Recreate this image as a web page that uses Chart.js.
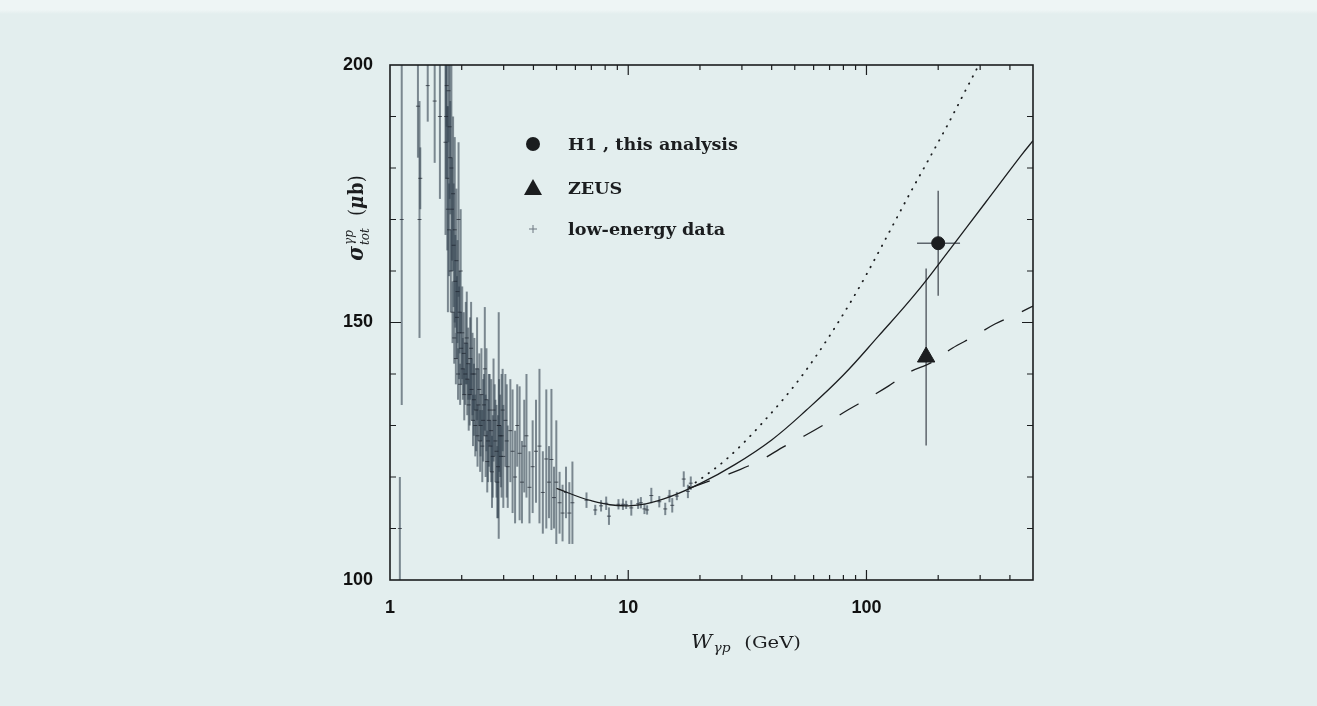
<!DOCTYPE html>
<html>
<head>
<meta charset="utf-8">
<script src="https://cdn.jsdelivr.net/npm/chart.js@4.4.0/dist/chart.umd.min.js"></script>
<style>
  html, body { margin: 0; padding: 0; }
  body {
    width: 1317px; height: 706px; overflow: hidden;
    background: linear-gradient(to bottom, #eef5f5 0px, #eef5f5 10px, #e3eeee 14px, #e3eeee 100%);
  }
</style>
</head>
<body>
<canvas id="myChart" width="1317" height="706"></canvas>
<script>
// low-energy data: W (GeV), sigma (mub), error (mub)
const lowW = [
  1.10, 1.12, 1.31, 1.33, 1.34, 1.44, 1.54, 1.62,
  1.72, 1.74, 1.76, 1.77, 1.79, 1.80, 1.82, 1.83, 1.85, 1.86, 1.88, 1.89, 1.91, 1.93, 1.95, 1.97, 1.99,
  2.02, 2.05, 2.08, 2.11, 2.14, 2.17, 2.20, 2.23, 2.26, 2.30, 2.33, 2.37, 2.40, 2.44, 2.48, 2.50, 2.52,
  2.56, 2.60, 2.64, 2.68, 2.72, 2.77, 2.82, 2.86, 2.87, 2.92, 2.94, 2.97,
  3.05, 3.09, 3.12, 3.20, 3.27, 3.35, 3.42, 3.50, 3.58, 3.66, 3.74, 3.85, 3.97, 4.10, 4.24, 4.38,
  4.53, 4.65, 4.76, 4.88, 4.99, 5.15, 5.30, 5.48, 5.66, 5.83,
  6.68, 7.27, 7.69, 8.08, 8.30, 9.10, 9.50, 9.80, 10.3, 11.0, 11.3, 11.7, 12.0, 12.5, 13.5,
  14.3, 14.9, 15.3, 16.0, 17.1, 17.8, 18.3,
  1.71, 1.73, 1.75, 1.78, 1.81, 1.84, 1.87, 1.90, 1.92, 1.94, 1.96, 1.98,
  2.01, 2.04, 2.07, 2.10, 2.13, 2.16, 2.19, 2.22, 2.25, 2.28, 2.32, 2.35, 2.39, 2.42, 2.46,
  2.54, 2.58, 2.62, 2.66, 2.70, 2.75, 2.80, 2.84, 2.90, 2.99
];
const lowSigma = [
  110, 170, 192, 170, 178, 196, 193, 190,
  190, 178, 195, 168, 182, 160, 172, 152, 165, 147, 158, 143, 151, 140, 148, 138, 145,
  141, 136, 146, 139, 134, 143, 137, 131, 140, 133, 128, 137, 130, 126, 134, 141, 128,
  123, 131, 126, 121, 133, 127, 119, 130, 130, 124, 128, 133,
  131, 127, 122, 129, 125, 120, 130, 124.6, 119, 126, 128, 118, 122, 125, 126, 117,
  123.5, 119, 123.4, 116, 119, 115, 113, 117, 113, 115,
  115.5, 113.6, 114.4, 114.9, 112.4, 114.7, 114.7, 114.6, 114.0, 114.8, 115.0, 113.8, 113.6, 116.4, 115.2,
  113.8, 116.3, 114.5, 116.3, 119.6, 117.2, 118.8,
  185, 196, 172, 188, 180, 175, 168, 162, 156, 170, 152, 160,
  148, 144, 140, 147, 142, 136, 145, 140, 135, 130, 141, 134, 127, 136, 131,
  135, 127, 133, 129, 124, 131, 125, 122, 128, 124
];
const lowErr = [
  10, 36, 10, 23, 6, 7, 12, 16,
  12, 14, 10, 9, 11, 8, 10, 6, 12, 5, 9, 5, 8, 5, 9, 4, 7,
  6, 5, 8, 7, 5, 8, 6, 5, 7, 8, 6, 7, 6, 7, 6, 12, 8,
  6, 9, 5, 7, 10, 8, 7, 22, 9, 6, 12, 8,
  9, 11, 8, 10, 12, 9, 8, 13, 8, 9, 12, 7, 9, 10, 15, 8,
  13.5, 7, 13.7, 6, 12, 6, 5.5, 5, 6, 8,
  1.5, 1.0, 1.1, 1.3, 1.7, 1.0, 1.1, 0.8, 1.5, 1.0, 1.1, 1.0, 0.9, 1.5, 1.1,
  1.2, 1.2, 1.4, 0.8, 1.5, 1.3, 1.3,
  18, 8, 20, 14, 20, 15, 18, 14, 10, 15, 8, 12,
  9, 8, 6, 9, 7, 6, 9, 8, 7, 6, 10, 7, 6, 9, 8,
  10, 8, 7, 10, 8, 7, 9, 10, 8, 10
];

// H1, this analysis
const h1W = [200];
const h1Sigma = [165.4];
const h1Err = [10.2];
const h1WLow = [163];
const h1WHigh = [247];

// ZEUS
const zeusW = [178];
const zeusSigma = [143.3];
const zeusErr = [17.2];

// model curves
const fitW = [5, 7, 10, 14, 20, 28, 40, 56, 80, 112, 160, 224, 316, 447, 500];
const fitSigma = [117.8, 115.4, 114.4, 115.7, 118.7, 122.4, 127.2, 133.0, 139.8, 147.3, 155.5, 164.2, 173.3, 182.5, 185.3];

const dotW = [18, 25.6, 35.9, 54.5, 86.9, 154.8, 214, 294, 340];
const dotSigma = [118, 123.3, 130.1, 140.1, 154.4, 175.7, 187.5, 199.7, 205];

const dashW = [18, 29.6, 36.5, 45, 55, 67.7, 82.8, 101.8, 124, 152, 187, 229, 280, 346, 430, 500];
const dashSigma = [117.8, 121.5, 123.4, 125.9, 128.0, 130.4, 132.9, 135.3, 137.7, 140.4, 142.2, 145.0, 147.2, 149.7, 151.7, 153.2];

const xTickLabels = [1, 10, 100];
const yTickLabels = [100, 150, 200];
const xMinorTicks = [2, 3, 4, 5, 6, 7, 8, 9, 20, 30, 40, 50, 60, 70, 80, 90, 200, 300, 400];
const xMajorTicks = [10, 100];
const yMinorTicks = [110, 120, 130, 140, 160, 170, 180, 190];
const yMajorTicks = [150];

const legendLabels = ['H1 , this analysis', 'ZEUS', 'low-energy data'];

const ink = '#1b1d1f';

function pts(xs, ys) {
  return xs.map((v, i) => ({ x: v, y: ys[i] }));
}

// vertical (and horizontal) error bars
const errorBars = {
  id: 'errorBars',
  beforeDatasetsDraw(chart) {
    const { ctx, chartArea: a, scales: { x, y } } = chart;
    ctx.save();
    ctx.beginPath();
    ctx.rect(a.left, a.top, a.right - a.left, a.bottom - a.top);
    ctx.clip();
    chart.data.datasets.forEach(ds => {
      if (!ds.errY) return;
      ctx.strokeStyle = ds.errColor;
      ctx.lineWidth = ds.errWidth;
      ds.data.forEach((p, i) => {
        const px = x.getPixelForValue(p.x);
        ctx.beginPath();
        ctx.moveTo(px, y.getPixelForValue(p.y - ds.errY[i]));
        ctx.lineTo(px, y.getPixelForValue(p.y + ds.errY[i]));
        ctx.stroke();
        if (ds.errXLow) {
          const py = y.getPixelForValue(p.y);
          ctx.beginPath();
          ctx.moveTo(x.getPixelForValue(ds.errXLow[i]), py);
          ctx.lineTo(x.getPixelForValue(ds.errXHigh[i]), py);
          ctx.stroke();
        }
      });
    });
    ctx.restore();
  }
};

// text with pieces in different fonts, centred on (cx, cy)
function richText(ctx, parts, cx, cy, sx, angle) {
  ctx.save();
  ctx.translate(cx, cy);
  ctx.scale(sx, 1);
  ctx.rotate(angle);
  ctx.fillStyle = ink;
  ctx.textAlign = 'left';
  ctx.textBaseline = 'alphabetic';
  let w = 0;
  parts.forEach(p => {
    ctx.font = p.font;
    p.w = ctx.measureText(p.text).width;
    if (!p.stay) w += p.w + (p.gap || 0);
  });
  let x = -w / 2;
  parts.forEach(p => {
    ctx.font = p.font;
    ctx.fillText(p.text, x, p.dy || 0);
    if (!p.stay) x += p.w + (p.gap || 0);
  });
  ctx.restore();
}

// frame, inward ticks, axis titles and legend
const decorations = {
  id: 'decorations',
  afterDraw(chart) {
    const { ctx, chartArea: a, scales: { x, y } } = chart;
    ctx.save();
    ctx.strokeStyle = ink;
    ctx.lineWidth = 1.6;
    ctx.strokeRect(a.left, a.top, a.right - a.left, a.bottom - a.top);

    ctx.lineWidth = 1.2;
    const xt = (vals, len) => vals.forEach(v => {
      const px = x.getPixelForValue(v);
      ctx.beginPath();
      ctx.moveTo(px, a.bottom); ctx.lineTo(px, a.bottom - len);
      ctx.moveTo(px, a.top); ctx.lineTo(px, a.top + len);
      ctx.stroke();
    });
    const yt = (vals, len) => vals.forEach(v => {
      const py = y.getPixelForValue(v);
      ctx.beginPath();
      ctx.moveTo(a.left, py); ctx.lineTo(a.left + len, py);
      ctx.moveTo(a.right, py); ctx.lineTo(a.right - len, py);
      ctx.stroke();
    });
    xt(xMinorTicks, 5);
    xt(xMajorTicks, 10);
    yt(yMinorTicks, 6);
    yt(yMajorTicks, 11);
    ctx.restore();

    // x title: W_gamma p (GeV)
    richText(ctx, [
      { text: 'W', font: 'italic 18px "DejaVu Serif"', gap: 1 },
      { text: 'γp', font: 'italic 12px "DejaVu Serif"', dy: 4, gap: 12 },
      { text: '(GeV)', font: '17px "DejaVu Serif"' }
    ], 746, 648, 1.15, 0);

    // y title: sigma_tot^gamma p (mu b)
    richText(ctx, [
      { text: 'σ', font: 'italic bold 20px "DejaVu Serif"', gap: 1 },
      { text: 'γp', font: 'italic 12px "DejaVu Serif"', dy: -9, stay: true },
      { text: 'tot', font: 'italic 12px "DejaVu Serif"', dy: 5, gap: 12 },
      { text: '(', font: '18px "DejaVu Serif"' },
      { text: 'μ', font: 'italic bold 18px "DejaVu Serif"', gap: 1 },
      { text: 'b', font: 'bold 18px "DejaVu Serif"' },
      { text: ')', font: '18px "DejaVu Serif"' }
    ], 363, 218, 1.15, -Math.PI / 2);

    // legend
    ctx.save();
    ctx.fillStyle = ink;
    const lx = 533, rows = [144, 188, 229];
    ctx.beginPath();
    ctx.arc(lx, rows[0], 7, 0, Math.PI * 2);
    ctx.fill();
    ctx.beginPath();
    ctx.moveTo(lx, rows[1] - 9);
    ctx.lineTo(lx + 9, rows[1] + 7);
    ctx.lineTo(lx - 9, rows[1] + 7);
    ctx.closePath();
    ctx.fill();
    ctx.strokeStyle = '#6d7780';
    ctx.lineWidth = 1;
    ctx.beginPath();
    ctx.moveTo(lx - 4, rows[2]); ctx.lineTo(lx + 4, rows[2]);
    ctx.moveTo(lx, rows[2] - 4); ctx.lineTo(lx, rows[2] + 4);
    ctx.stroke();
    legendLabels.forEach((t, i) => {
      ctx.save();
      ctx.translate(568, rows[i] + 6);
      ctx.scale(1.1, 1);
      ctx.font = 'bold 16px "DejaVu Serif"';
      ctx.textBaseline = 'alphabetic';
      ctx.fillText(t, 0, 0);
      ctx.restore();
    });
    ctx.restore();
  }
};

new Chart(document.getElementById('myChart'), {
  type: 'scatter',
  data: {
    datasets: [
      {
        label: 'low-energy data',
        data: pts(lowW, lowSigma),
        errY: lowErr,
        errColor: 'rgba(52, 66, 80, 0.6)',
        errWidth: 2,
        pointStyle: 'line',
        pointRadius: 2,
        borderColor: 'rgba(30, 35, 45, 0.7)',
        borderWidth: 1
      },
      {
        label: 'fit',
        data: pts(fitW, fitSigma),
        showLine: true,
        pointRadius: 0,
        borderColor: ink,
        borderWidth: 1.3,
        tension: 0.4
      },
      {
        label: 'dotted',
        data: pts(dotW, dotSigma),
        showLine: true,
        pointRadius: 0,
        borderColor: ink,
        borderWidth: 1.8,
        borderDash: [0.5, 7.5],
        borderCapStyle: 'round',
        cubicInterpolationMode: 'monotone'
      },
      {
        label: 'dashed',
        data: pts(dashW, dashSigma),
        showLine: true,
        pointRadius: 0,
        borderColor: ink,
        borderWidth: 1.3,
        borderDash: [22, 20],
        cubicInterpolationMode: 'monotone'
      },
      {
        label: 'H1 , this analysis',
        data: pts(h1W, h1Sigma),
        errY: h1Err,
        errXLow: h1WLow,
        errXHigh: h1WHigh,
        errColor: '#5d656c',
        errWidth: 1.5,
        pointStyle: 'circle',
        pointRadius: 6.5,
        backgroundColor: ink,
        borderColor: ink
      },
      {
        label: 'ZEUS',
        data: pts(zeusW, zeusSigma),
        errY: zeusErr,
        errColor: '#5d656c',
        errWidth: 1.5,
        pointStyle: 'triangle',
        pointRadius: 10,
        backgroundColor: ink,
        borderColor: ink
      }
    ]
  },
  options: {
    responsive: false,
    animation: false,
    layout: { padding: { left: 0, right: 284, top: 65, bottom: 0 } },
    plugins: {
      legend: { display: false },
      tooltip: { enabled: false }
    },
    scales: {
      x: {
        type: 'logarithmic',
        min: 1,
        max: 500,
        afterFit: s => { s.height = 126; },
        afterBuildTicks: s => { s.ticks = xTickLabels.map(v => ({ value: v })); },
        grid: { display: false, drawTicks: false },
        border: { display: false },
        ticks: {
          autoSkip: false,
          maxRotation: 0,
          padding: 17,
          color: '#111',
          font: { family: 'Liberation Sans', weight: 'bold', size: 18 },
          callback: v => String(v)
        }
      },
      y: {
        min: 100,
        max: 200,
        afterFit: s => { s.width = 390; },
        afterBuildTicks: s => { s.ticks = yTickLabels.map(v => ({ value: v })); },
        grid: { display: false, drawTicks: false },
        border: { display: false },
        ticks: {
          padding: 17,
          color: '#111',
          font: { family: 'Liberation Sans', weight: 'bold', size: 18 }
        }
      }
    }
  },
  plugins: [errorBars, decorations]
});
</script>
</body>
</html>
